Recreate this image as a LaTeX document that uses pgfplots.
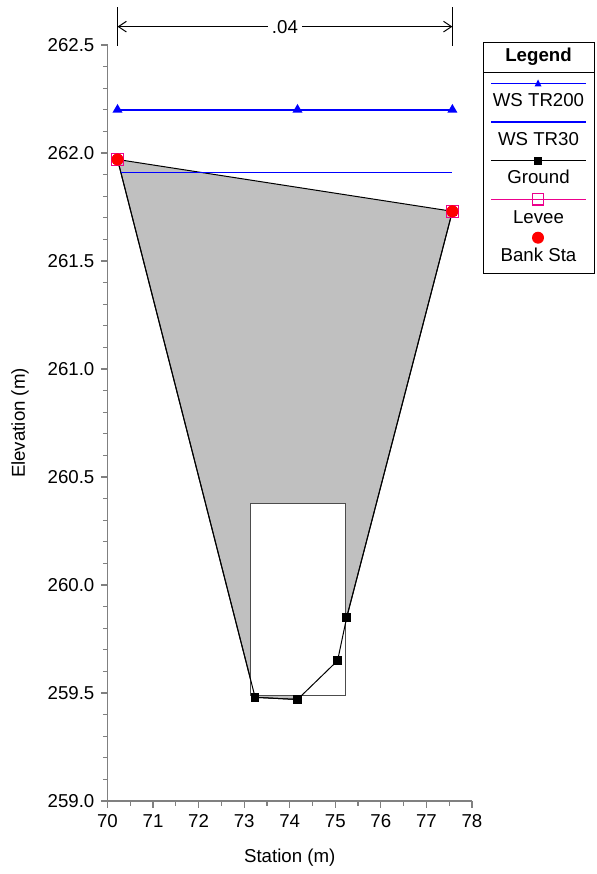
\documentclass[border=0pt]{standalone}
\usepackage{fontspec}
\setmainfont{Liberation Sans}
\usepackage{pgfplots}
\pgfplotsset{compat=1.18}
\usetikzlibrary{arrows.meta}
\definecolor{deckgray}{RGB}{192,192,192}
\definecolor{axgray}{RGB}{128,128,128}

\begin{document}
\fontsize{14}{17}\selectfont
\begin{tikzpicture}
\begin{axis}[
    name=ax, at={(80.625pt,-600.75pt)}, anchor=south west,
    scale only axis, width=273.375pt, height=567pt,
    xmin=70, xmax=78, ymin=259, ymax=262.5,
    axis x line=bottom, axis y line=left,
    axis line style={-, axgray, line width=1.1pt},
    tick align=outside, tick style={axgray, line width=0.9pt},
    major tick length=5pt, minor tick length=3.5pt,
    xtick={70,71,72,73,74,75,76,77,78}, minor x tick num=1,
    ytick={259,259.5,260,260.5,261,261.5,262,262.5}, minor y tick num=4,
    yticklabel style={/pgf/number format/.cd, fixed, fixed zerofill, precision=1},
    /pgf/number format/assume math mode=true,
    xlabel={Station (m)}, ylabel={Elevation (m)},
    xlabel style={at={(axis description cs:0.5,-0.0754)}, anchor=center},
    ylabel style={at={(axis description cs:-0.240,0.5)}, anchor=center},
    clip=false,
]
% deck between high chord and ground
\addplot[fill=deckgray, draw=black, line width=0.75pt] coordinates {
    (70.22,261.97) (77.57,261.73) (75.25,259.85) (75.05,259.65) (74.17,259.47) (73.24,259.48)
} -- cycle;
% culvert opening
\addplot[fill=white, draw=black!70, line width=0.6pt] coordinates {
    (73.13,259.49) (75.22,259.49) (75.22,260.38) (73.13,260.38)
} -- cycle;
% ground
\addplot[black, line width=0.75pt, mark=square*, mark size=2.8pt] coordinates {
    (70.22,261.97) (73.24,259.48) (74.17,259.47) (75.05,259.65) (75.25,259.85) (77.57,261.73)
};
% WS TR200
\addplot[blue, line width=1.4pt, mark=triangle*, mark size=3pt] coordinates {
    (70.22,262.20) (74.17,262.20) (77.57,262.20)
};
% WS TR30
\addplot[blue, line width=0.9pt] coordinates {
    (70.29,261.91) (77.57,261.91)
};
% levee
\addplot[only marks, magenta, mark=square, mark size=4.6pt, line width=0.75pt] coordinates {
    (70.22,261.97) (77.57,261.73)
};
% bank stations
\addplot[only marks, red, mark=*, mark size=4.3pt] coordinates {
    (70.22,261.97) (77.57,261.73)
};
% roughness dimension line
\draw[line width=0.75pt] (axis cs:70.22,262.497) -- (axis cs:70.22,262.677);
\draw[line width=0.75pt] (axis cs:77.57,262.497) -- (axis cs:77.57,262.677);
\draw[line width=0.75pt, {Straight Barb[length=6pt,width=8pt]}-{Straight Barb[length=6pt,width=8pt]}]
    (axis cs:70.22,262.585) -- node[fill=white, inner sep=3pt] {.04} (axis cs:77.57,262.585);
\end{axis}

% legend, in pixel units of the reference
\begin{scope}[x=0.75pt, y=-0.75pt]
\draw[black, line width=0.6pt, fill=white] (483,42) rectangle (594,273);
\draw[black, line width=0.6pt] (483,72.3) -- (594,72.3);
\node[font=\bfseries] at (538.5,56.7) {Legend};
\draw[blue, line width=0.8pt] (491,83.7) -- (586,83.7);
\fill[blue] (534.5,86.5) -- (541.5,86.5) -- (538,79.5) -- cycle;
\node at (538.5,100) {WS TR200};
\draw[blue, line width=0.8pt] (491,122) -- (586,122);
\node at (538.5,139) {WS TR30};
\draw[black, line width=0.8pt] (491,160.7) -- (586,160.7);
\fill[black] (534,156.7) rectangle (542,164.7);
\node at (538.5,176.7) {Ground};
\draw[magenta, line width=0.8pt] (491,199.3) -- (586,199.3);
\draw[magenta, line width=0.8pt] (532.5,193.5) rectangle (543.5,205);
\node at (538.5,216.7) {Levee};
\fill[red] (538,237.7) circle (6);
\node at (538.5,255) {Bank Sta};
\end{scope}
\pgfresetboundingbox
\path[x=0.75pt, y=-0.75pt] (0,0) rectangle (596,874);
\end{tikzpicture}
\end{document}
